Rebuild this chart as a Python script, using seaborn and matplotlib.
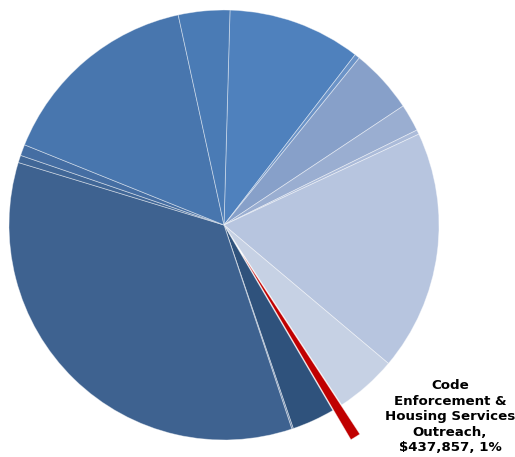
import matplotlib
matplotlib.use("Agg")
import matplotlib.pyplot as plt
import seaborn as sns

# Budget by program area, in dollars (slices run clockwise from the top)
categories = [
    "Neighborhood Services", "Grants Administration", "Community Development",
    "Fair Housing", "Homeless Prevention", "Housing Rehabilitation",
    "Rental Assistance", "Code Enforcement & Housing Services Outreach",
    "Lead Hazard Control", "Relocation Services", "Affordable Housing Development",
    "Tenant Counseling", "Youth Programs", "Public Facilities", "Economic Development",
]
values = [
    5630000, 219000, 2721000, 1157000, 188000, 10180000, 2612000, 437857,
    1814000, 63000, 19594000, 313000, 469000, 8726000, 2174000,
]
colors = [
    "#4f81bd", "#6b93c7", "#87a0c9", "#9aaed1", "#abbbd9", "#b7c5df", "#c6d1e4",
    "#c00000", "#2f527c", "#5877a0", "#3e6290", "#416797", "#456ea3", "#4876ae",
    "#4a7bb5",
]
highlight = "Code Enforcement & Housing Services Outreach"

sns.set_theme(style="white")
plt.rcParams["font.family"] = ["DejaVu Sans"]

W, H = 515, 457
fig = plt.figure(figsize=(W / 100, H / 100), dpi=100)
fig.patch.set_facecolor("white")

# Square axes so that radius 1 spans 215 px around the pie centre
cx, cy, r = 224, 225, 215
ax = fig.add_axes([(cx - r) / W, (H - cy - r) / H, 2 * r / W, 2 * r / H])

explode = [0.16 if c == highlight else 0.0 for c in categories]
total = sum(values)
start = 90 - 1.6

wedges, _ = ax.pie(
    values,
    colors=colors,
    explode=explode,
    startangle=start,
    counterclock=False,
    radius=1.0,
    wedgeprops=dict(edgecolor=(1, 1, 1, 0.45), linewidth=0.6),
)
for w in wedges:
    w.set_clip_on(False)

idx = categories.index(highlight)
pct = values[idx] / total * 100
label = "Code\nEnforcement &\nHousing Services\nOutreach,\n${:,.0f}, {:.0f}%".format(values[idx], max(pct, 1))
ax.text(1.051, -0.893, label, ha="center", va="center", fontsize=9.6,
        fontweight="bold", color="black", linespacing=1.25)

ax.set_xlim(-1, 1)
ax.set_ylim(-1, 1)
ax.set_aspect("auto")
ax.axis("off")

fig.savefig("out.png", dpi=100, facecolor="white")
